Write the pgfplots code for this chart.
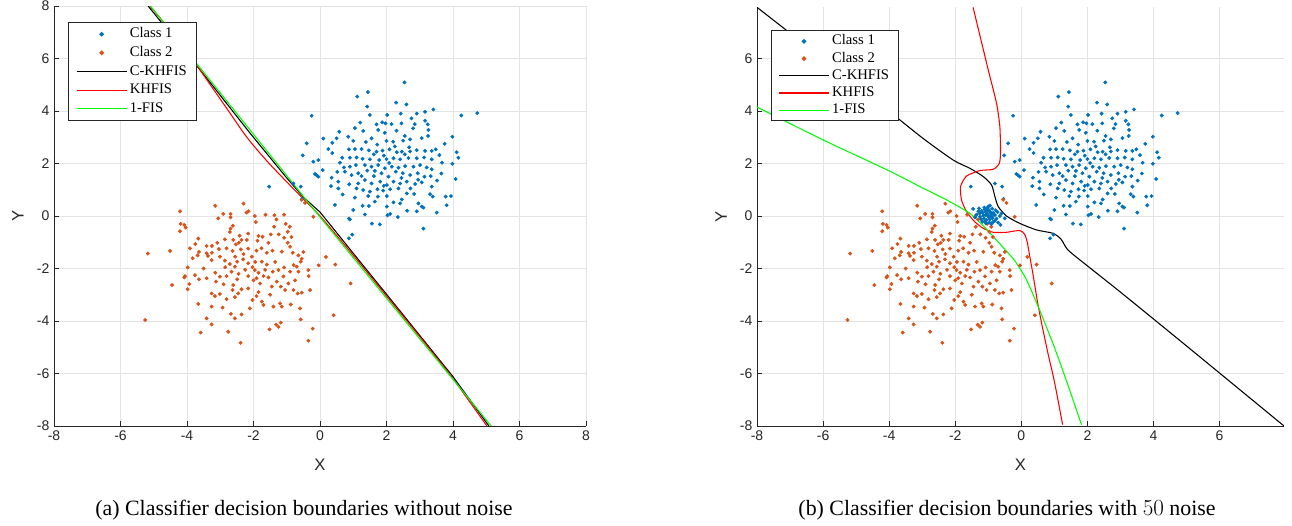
\documentclass[border=0pt]{standalone}
\usepackage{pgfplots}
\pgfplotsset{compat=1.18}
\usepackage{pgfplotstable}
\usepackage{fontspec}
\setmainfont{Liberation Serif}
\setsansfont{Liberation Sans}

\definecolor{cone}{rgb}{0,0.447,0.741}
\definecolor{ctwo}{rgb}{0.85,0.325,0.098}
\definecolor{gridgray}{gray}{0.89}
\definecolor{axgray}{gray}{0.15}

% class 1 samples
\pgfplotstableread{
x y
2.54 5.09
1.12 4.55
1.44 4.72
1.42 4.17
2.29 4.32
2.60 4.25
1.50 3.85
-0.25 3.82
4.25 3.83
4.73 3.92
2.43 3.90
2.91 3.90
3.16 3.97
3.41 4.06
1.21 3.56
1.70 3.49
1.87 3.57
1.97 3.53
2.15 3.50
2.45 3.53
2.75 3.72
2.85 3.50
3.16 3.63
3.24 3.49
0.58 3.21
1.30 3.24
1.75 3.28
1.95 3.17
2.30 3.25
2.55 3.05
2.80 3.34
3.26 3.28
3.98 3.02
0.10 2.95
0.37 2.79
0.50 2.96
0.85 3.02
1.00 2.86
1.55 2.96
2.00 2.86
2.20 2.83
2.50 2.87
2.71 2.92
3.06 2.97
-0.40 2.77
-0.52 2.31
4.11 2.43
4.16 2.22
0.87 2.54
1.05 2.55
1.25 2.55
1.47 2.50
1.70 2.45
1.88 2.49
2.09 2.54
2.31 2.43
2.46 2.45
2.71 2.46
2.91 2.51
3.16 2.48
3.36 2.48
3.48 2.54
3.59 2.32
0.37 2.40
0.67 2.22
0.90 2.22
1.10 2.23
1.28 2.18
1.50 2.16
1.78 2.13
2.00 2.17
2.21 2.20
2.41 2.16
2.66 2.21
2.91 2.20
3.13 2.23
3.36 2.16
3.67 2.03
3.98 1.99
-0.20 2.07
-0.05 2.13
0.60 2.03
0.72 1.85
0.90 1.88
1.08 1.94
1.35 1.94
1.55 1.88
1.75 1.94
1.95 1.82
2.16 1.88
2.36 1.84
2.56 1.90
2.81 1.88
3.01 1.94
3.21 1.85
3.36 1.78
0.08 1.75
-0.15 1.60
-0.05 1.50
0.52 1.68
0.75 1.69
0.95 1.56
1.15 1.63
1.42 1.73
1.62 1.52
1.85 1.63
2.06 1.50
2.28 1.69
2.49 1.63
2.71 1.56
2.94 1.63
3.14 1.50
3.33 1.52
4.08 1.41
0.35 1.46
0.55 1.31
0.88 1.21
1.15 1.24
1.35 1.37
1.55 1.24
1.81 1.31
2.01 1.18
2.21 1.31
2.41 1.24
2.61 1.31
2.86 1.22
3.06 1.28
3.36 1.12
0.33 1.14
0.55 1.05
1.10 1.05
1.30 0.99
1.50 0.93
1.73 1.02
1.90 0.97
2.11 1.02
2.36 1.05
2.61 0.86
2.83 0.84
3.31 0.83
3.39 0.74
3.78 0.74
3.94 0.76
1.05 0.70
1.45 0.76
1.74 0.74
2.01 0.76
2.46 0.63
2.21 0.52
2.41 0.48
2.96 0.48
3.06 0.36
3.11 0.32
0.45 0.42
1.00 0.23
1.28 0.39
1.47 0.38
2.01 0.36
1.35 0.06
2.03 0.03
2.11 0.08
2.34 -0.04
2.91 0.18
3.51 0.13
3.81 0.41
0.87 -0.10
0.90 -0.13
1.56 -0.29
1.80 -0.32
3.11 -0.48
0.87 -0.85
0.97 -0.71
-1.53 1.12
-0.80 1.24
-0.58 1.12
-0.10 1.55
-0.54 0.65
1.62 2.35
2.25 2.65
2.68 2.62
1.38 2.82
1.92 2.30
2.55 2.35
2.08 2.02
1.65 1.72
2.45 1.45
1.92 1.15
2.72 1.05
1.25 1.52
3.52 1.35
3.65 1.62
0.68 0.82
2.62 0.20
1.65 0.55
3.25 3.05
1.05 3.35
2.02 3.85
3.75 2.75
0.25 2.55
2.95 1.38
1.72 2.72
}\classone

% class 2 samples
\pgfplotstableread{
x y
-3.15 0.39
-2.30 0.47
-4.21 0.18
-2.91 0.08
-2.69 0.08
-2.69 -0.05
-2.21 0.13
-2.15 0.18
-3.06 -0.09
-1.96 0.00
-1.64 0.05
-1.37 0.03
-1.08 0.05
-1.31 -0.13
-1.93 -0.23
-4.19 -0.30
-4.08 -0.34
-4.04 -0.44
-4.21 -0.58
-2.62 -0.37
-2.69 -0.48
-2.71 -0.61
-1.03 -0.30
-0.91 -0.41
-0.97 -0.60
-1.38 -0.41
-1.48 -0.70
-1.85 -0.76
-1.73 -0.79
-2.16 -0.67
-2.42 -0.75
-2.36 -0.91
-2.20 -0.91
-1.88 -0.94
-1.55 -1.02
-1.24 -0.70
-1.08 -0.83
-0.97 -1.02
-0.86 -0.80
-3.66 -0.86
-3.75 -1.07
-3.91 -1.23
-3.41 -1.14
-3.25 -1.14
-3.09 -1.02
-2.86 -0.89
-2.61 -0.91
-2.53 -1.08
-2.44 -1.02
-2.81 -1.23
-3.04 -1.26
-3.25 -1.40
-3.41 -1.42
-3.83 -1.61
-3.68 -1.50
-3.64 -1.37
-4.51 -1.33
-5.18 -1.43
-2.63 -1.33
-2.38 -1.27
-2.16 -1.24
-1.91 -1.32
-1.76 -1.23
-1.60 -1.40
-1.43 -1.32
-1.15 -1.36
-0.90 -1.17
-0.82 -1.40
-0.65 -1.50
-0.55 -1.63
-0.50 -1.37
-0.58 -1.74
-0.79 -1.87
-0.04 -1.88
0.18 -1.56
0.46 -1.85
0.92 -2.57
0.41 -3.78
-3.37 -1.52
-3.26 -1.68
-3.01 -1.55
-2.86 -1.70
-2.71 -1.83
-2.56 -1.93
-2.49 -1.74
-2.31 -1.65
-2.16 -1.80
-2.03 -1.95
-1.96 -2.06
-1.85 -2.16
-1.75 -1.74
-1.60 -1.85
-1.42 -2.12
-1.25 -2.06
-1.08 -1.96
-0.90 -2.12
-0.70 -1.93
-0.65 -2.12
-0.35 -2.06
-0.34 -2.29
-3.98 -1.96
-4.06 -2.29
-4.08 -2.34
-3.93 -2.59
-3.76 -2.25
-3.64 -2.41
-3.41 -2.37
-3.15 -2.16
-3.01 -2.31
-3.13 -2.50
-2.81 -2.29
-2.66 -2.12
-2.49 -2.41
-2.61 -2.63
-2.36 -2.79
-2.16 -2.76
-2.16 -2.29
-1.91 -2.37
-1.80 -2.57
-1.70 -2.29
-1.55 -2.34
-1.45 -2.69
-1.30 -2.50
-1.18 -2.69
-1.05 -2.82
-0.95 -2.57
-0.80 -2.82
-0.67 -2.95
-0.55 -2.92
-0.30 -2.82
-3.26 -2.95
-3.16 -3.05
-3.01 -2.97
-2.81 -3.17
-2.63 -2.82
-2.56 -3.09
-2.46 -2.95
-2.11 -3.52
-2.03 -3.20
-1.91 -3.05
-1.75 -3.26
-1.70 -3.39
-1.40 -3.45
-1.20 -3.33
-1.15 -3.45
-0.88 -3.37
-0.60 -3.52
-3.66 -3.35
-3.26 -3.45
-2.93 -3.49
-2.68 -3.73
-2.56 -3.90
-2.36 -3.75
-3.41 -3.90
-3.26 -4.13
-3.59 -4.44
-2.76 -4.41
-2.39 -4.83
-1.52 -4.32
-1.32 -4.14
-1.25 -4.22
-1.18 -4.06
-0.58 -3.94
-0.22 -4.29
-0.35 -4.75
-5.26 -3.96
-4.45 -2.63
-3.98 -2.79
-0.45 0.50
-0.20 -0.03
-0.55 0.62
-2.05 -1.55
-1.95 -1.75
-2.25 -2.05
-1.65 -2.05
-2.45 -2.20
-2.00 -2.45
-1.35 -1.75
-2.85 -1.95
-1.10 -2.30
-2.30 -1.45
-3.50 -2.00
-1.50 -3.00
-2.90 -2.60
-0.75 -2.45
-1.85 -2.90
-2.55 -1.55
}\classtwo

% 50 noise points labelled class 1
\pgfplotstableread{
x y
-1.46 0.27
-1.28 0.29
-1.00 0.36
-1.17 0.13
-1.07 0.04
-0.90 -0.03
-0.80 0.04
-0.65 0.00
-0.63 -0.34
-0.85 -0.22
-1.25 -0.03
-1.07 -0.28
-0.95 0.17
-1.13 -0.09
-0.50 -0.09
-1.20 0.20
-1.10 0.25
-0.98 0.22
-0.92 0.10
-1.02 0.08
-1.15 0.02
-0.88 0.28
-1.05 -0.15
-0.95 -0.12
-0.75 -0.10
-0.85 0.12
-1.35 0.05
-1.30 0.18
-0.72 0.15
-0.98 -0.05
-1.10 -0.20
-0.90 -0.30
-1.22 -0.12
-0.80 -0.18
-1.03 0.30
-0.93 0.02
-1.08 0.15
-0.87 -0.08
-1.18 -0.22
-0.78 0.22
-1.40 -0.05
-0.97 -0.25
-1.12 0.32
-0.70 -0.25
-1.00 -0.02
-0.83 0.05
-1.25 0.10
-0.95 0.40
-1.05 0.20
-0.60 0.10
}\noisepts

\pgfplotsset{
  dbaxis/.style={
    scale only axis,
    axis x line*=bottom, axis y line*=left,
    tick align=inside,
    xmin=-8, ymin=-8,
    grid=major,
    major grid style={gridgray, line width=0.75pt},
    axis line style={axgray, line width=0.7pt},
    major tick length=4pt,
    tick style={axgray, line width=0.7pt},
    ticklabel style={font=\sffamily\fontsize{10.5}{12}\selectfont, text=axgray},
    xlabel={X}, ylabel={Y},
    xlabel style={font=\sffamily\fontsize{12.5}{14}\selectfont, text=axgray, at={(axis description cs:0.5,-0.093)}, anchor=center},
    ylabel style={font=\sffamily\fontsize{12.5}{14}\selectfont, text=axgray, at={(axis description cs:-0.068,0.5)}, anchor=center, rotate=0},
    legend cell align=left,
    legend style={draw=axgray, line width=0.7pt, font=\fontsize{11}{13}\selectfont,
      anchor=north west, inner xsep=5.4pt, inner ysep=1.5pt,
      nodes={inner xsep=1.9pt, inner ysep=1.75pt, text height=8pt, text depth=2.5pt}},
    legend image code/.code={\draw[mark repeat=2,mark phase=2,#1,line width=0.9pt] plot coordinates {(0pt,0pt) (18.75pt,0pt) (37.5pt,0pt)};},
    cls/.style={only marks, mark=*, mark size=1.25pt},
    bnd/.style={line width=0.8pt},
  }
}

\begin{document}
\begin{tikzpicture}
\useasboundingbox (0,0) rectangle (969pt,-393.75pt);

% (a) without noise
\begin{axis}[dbaxis,
  at={(40.5pt,-319.5pt)}, anchor=south west,
  width=399pt, height=315pt,
  xmax=8, ymax=8,
  xtick={-8,-6,...,8}, ytick={-8,-6,...,8},
  xticklabels={-8,-6,-4,-2,0,2,4,6,8},
  yticklabels={-8,-6,-4,-2,0,2,4,6,8},
  legend style={at={(0.027,0.961)}},
]
\addplot[cls, cone] table {\classone};
\addplot[cls, ctwo] table {\classtwo};
\addplot[bnd, black] coordinates {
(-5.17,8) (-3.5,5.4) (-2.1,3.15) (-1,1.45) (-0.5,0.72) (0,0.15) (0.3,-0.32) (1,-1.42) (2,-2.98) (3,-4.55) (4,-6.12) (5.08,-8)};
\addplot[bnd, red, smooth] coordinates {
(-5.12,8) (-4.45,7) (-3.85,6) (-3.3,5) (-2.75,4) (-2.2,3) (-1.6,2.1) (-1,1.3) (-0.5,0.65) (0,0) (1,-1.5) (2,-3.05) (3,-4.6) (4,-6.2) (5.02,-8)};
\addplot[bnd, green] coordinates {
(-5.1,8) (0,-0.04) (5.15,-8)};
\legend{Class 1, Class 2, C-KHFIS, KHFIS, 1-FIS}
\end{axis}

% (b) with 50 noise
\begin{axis}[dbaxis,
  at={(567.75pt,-319.5pt)}, anchor=south west,
  width=395.25pt, height=314pt,
  xmax=7.95, ymax=7.95,
  xtick={-8,-6,...,6}, ytick={-8,-6,...,6},
  xticklabels={-8,-6,-4,-2,0,2,4,6},
  yticklabels={-8,-6,-4,-2,0,2,4,6},
  legend style={at={(0.026,0.945)}, nodes={text height=7.6pt, text depth=2.3pt, inner ysep=1.5pt}},
]
\addplot[cls, cone] table {\classone};
\addplot[cls, ctwo] table {\classtwo};
\addplot[bnd, black, smooth, tension=0.4] coordinates {
(-8,7.95) (-5,5.0) (-3.07,3.05) (-2.06,2.13) (-1.56,1.82) (-1.15,1.5) (-0.9,1.18) (-0.8,0.74) (-0.7,0.36) (-0.45,0.0) (-0.05,-0.28) (0.46,-0.53) (0.96,-0.66) (1.2,-0.88) (1.4,-1.28) (1.8,-1.7) (3,-2.9) (5,-4.95) (7.95,-8)};
\addplot[bnd, red, smooth, tension=0.4] coordinates {
(-1.46,7.95) (-1.22,6.7) (-1.0,5.56) (-0.75,4.29) (-0.65,3.4) (-0.63,2.39) (-0.67,2.0) (-0.85,1.78) (-1.26,1.73) (-1.66,1.52) (-1.84,1.12) (-1.81,0.61) (-1.66,0.17) (-1.41,-0.22) (-1.15,-0.47) (-0.85,-0.62) (-0.45,-0.62) (-0.05,-0.55) (0.1,-0.7) (0.18,-1.0) (0.25,-1.5) (0.35,-2.2) (0.48,-3.2) (0.6,-4.0) (0.8,-5.2) (1.0,-6.3) (1.25,-7.95)};
\addplot[bnd, green, smooth, tension=0.4] coordinates {
(-8,4.15) (-6,2.9) (-4,1.72) (-3.07,1.12) (-2.26,0.61) (-1.56,0.1) (-1.05,-0.51) (-0.55,-1.2) (-0.2,-1.7) (0.16,-2.44) (0.56,-3.6) (1.0,-5.0) (1.4,-6.4) (1.82,-7.95)};
\addplot[cls, cone, forget plot] table {\noisepts};
\legend{Class 1, Class 2, C-KHFIS, KHFIS, 1-FIS}
\end{axis}

\node[font=\fontsize{16.4}{19}\selectfont] at (228pt,-382.5pt) {(a) Classifier decision boundaries without noise};
\node[font=\fontsize{16.4}{19}\selectfont] at (755.25pt,-382.5pt) {(b) Classifier decision boundaries with $50$ noise};
\end{tikzpicture}
\end{document}
